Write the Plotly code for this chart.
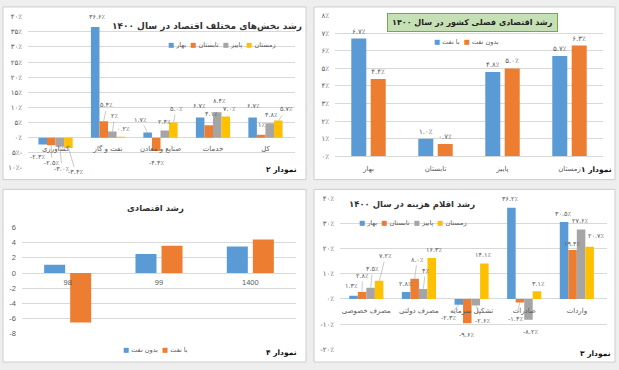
import math
import plotly.graph_objects as go

W, H = 619, 370

# ---------------- data ----------------
season_names = ["بهار", "تابستان", "پاییز", "زمستان"]
season_colors = ["#5b9bd5", "#ed7d31", "#a5a5a5", "#ffc000"]

# Chart 1: quarterly growth 1400
p1_categories = ["بهار", "تابستان", "پاییز", "زمستان"]
p1_with_oil = [6.7, 1.0, 4.8, 5.7]
p1_without_oil = [4.4, 0.7, 5.0, 6.3]
p1_series_names = ["با نفت", "بدون نفت"]
p1_colors = ["#5b9bd5", "#ed7d31"]
p1_yticks = [0, 1, 2, 3, 4, 5, 6, 7, 8]

# Chart 2: sectors
p2_categories = ["کشاورزی", "نفت و گاز", "صنایع و معادن", "خدمات", "کل"]
p2_spring = [-2.3, 36.6, 1.7, 6.7, 6.7]
p2_summer = [-2.5, 5.4, -4.4, 4.1, 1]
p2_autumn = [-3.0, 2, 2.4, 8.4, 4.8]
p2_winter = [-3.4, 0.2, 5.0, 7.0, 5.7]
p2_yticks = [-10, -5, 0, 5, 10, 15, 20, 25, 30, 35, 40]

# Chart 3: expenditure items
p3_categories = ["مصرف خصوصی", "مصرف دولتی", "تشکیل سرمایه", "صادرات", "واردات"]
p3_spring = [1.3, 2.8, -2.3, 36.2, 30.5]
p3_summer = [2.8, 8.0, -9.6, -1.4, 19.4]
p3_autumn = [4.5, 4, -2.6, -8.2, 27.6]
p3_winter = [7.2, 16.3, 14.1, 3.1, 20.7]
p3_yticks = [-20, -10, 0, 10, 20, 30, 40]

# Chart 4: annual growth
p4_categories = ["98", "99", "1400"]
p4_without_oil = [1.1, 2.5, 3.5]
p4_with_oil = [-6.5, 3.6, 4.4]
p4_series_names = ["بدون نفت", "با نفت"]
p4_colors = ["#5b9bd5", "#ed7d31"]
p4_yticks = [-8, -6, -4, -2, 0, 2, 4, 6]

# ---------------- label placement (pixel offsets from bar end, per series) ----------------
p2_label_offsets = [
    [(-5, 12), (3, -9.5), (-6.5, -12.7), (0, -11), (0.8, -11)],
    [(0.6, 18), (3.3, -16), (0, 12.4), (2.5, -11.6), (0.5, -9.6)],
    [(2, 22), (2.5, -16), (-0.5, -8.6), (2, -11), (1.3, -8)],
    [(7, 24.5), (2, -8), (2.5, -13.5), (3, -7.3), (8, -11)],
]
p3_label_offsets = [
    [(-1.7, -10), (0, -8.4), (-10.5, 12.8), (-0.6, -8.8), (-0.6, -8.5)],
    [(0.6, -16), (2.5, -19), (-1, 12), (-4.3, 16), (0, -6)],
    [(2, -18.7), (2.3, -17.7), (6.3, 15.3), (2, 12.5), (-0.6, -8.3)],
    [(6.3, -24.7), (2.4, -7.5), (-1.5, -8), (1, -7), (6.7, -11)],
]

# ---------------- helpers ----------------
FA = str.maketrans("0123456789", "۰۱۲۳۴۵۶۷۸۹")
FONT = "DejaVu Sans"
GRAY_TXT = "#595959"
GRID = "#d9d9d9"
LABEL_SIZE = 6.5


def fa(s):
    return str(s).translate(FA)


def pct(v):
    s = f"{abs(v):.1f}" if isinstance(v, float) else f"{abs(v)}"
    return ("-" if v < 0 else "") + fa(s) + "٪"


def px_x(p):
    return p / W


def px_y(p):
    return 1 - p / H


fig = go.Figure()

# panel backgrounds
panels = [(3, 3, 306, 180), (314, 3, 615, 180), (3, 190, 306, 367), (314, 190, 615, 367)]
for (x0, y0, x1, y1) in panels:
    fig.add_shape(type="rect", xref="paper", yref="paper",
                  x0=px_x(x0), x1=px_x(x1), y0=px_y(y1), y1=px_y(y0),
                  fillcolor="white", line=dict(color="#cdcdcd", width=1), layer="below")

# plot-area geometry (pixels)
p1_x, p1_dom_y, p1_rng = (335, 603), (12, 156), [0, 8]
p2_x, p2_dom_y, p2_rng = (28, 295), (13, 168), [-10, 40]
p3_x, p3_dom_y, p3_rng = (340, 607), (199, 354), [-20, 40]
p4_x, p4_dom_y, p4_rng = (22, 296), (229, 338), [-8, 6]


def add_bars(cats, series, names, colors, xa, ya, width, spacing, text=False):
    n = len(series)
    for i, (vals, name, col) in enumerate(zip(series, names, colors)):
        center = (i - (n - 1) / 2) * spacing
        kw = {}
        if text:
            kw = dict(text=[pct(v) for v in vals], textposition="outside",
                      textfont=dict(family=FONT, size=LABEL_SIZE + 0.5, color=GRAY_TXT),
                      constraintext="none", cliponaxis=False)
        fig.add_trace(go.Bar(
            x=cats, y=vals, name=name, xaxis=xa, yaxis=ya,
            width=width, offset=center - width / 2,
            marker=dict(color=col, line=dict(width=0)), showlegend=False, **kw))


def add_labels(cats, series, xa, ya, spacing, xpx, offsets):
    n = len(series)
    catw = (xpx[1] - xpx[0]) / len(cats)
    for i, vals in enumerate(series):
        shift = (i - (n - 1) / 2) * spacing * catw
        for j, v in enumerate(vals):
            dx, dy = offsets[i][j]
            common = dict(x=cats[j], y=v, xref=xa, yref=ya, text=pct(v),
                          font=dict(family=FONT, size=LABEL_SIZE, color=GRAY_TXT))
            if math.hypot(dx, dy) > 13:
                fig.add_annotation(**common, showarrow=True, arrowhead=0, arrowwidth=0.6,
                                   arrowcolor="#a6a6a6", ax=dx, ay=dy, xshift=shift,
                                   standoff=0, startstandoff=0)
            else:
                fig.add_annotation(**common, showarrow=False, xshift=shift + dx, yshift=-dy,
                                   xanchor="center", yanchor="middle")


p2_series = [p2_spring, p2_summer, p2_autumn, p2_winter]
p3_series = [p3_spring, p3_summer, p3_autumn, p3_winter]

add_bars(p1_categories, [p1_with_oil, p1_without_oil], p1_series_names, p1_colors,
         "x", "y", 0.224, 0.29, text=True)
add_bars(p2_categories, p2_series, season_names, season_colors, "x2", "y2", 0.163, 0.163)
add_bars(p3_categories, p3_series, season_names, season_colors, "x3", "y3", 0.162, 0.162)
add_bars(p4_categories, [p4_without_oil, p4_with_oil], p4_series_names, p4_colors,
         "x4", "y4", 0.23, 0.285)

add_labels(p2_categories, p2_series, "x2", "y2", 0.163, p2_x, p2_label_offsets)
add_labels(p3_categories, p3_series, "x3", "y3", 0.162, p3_x, p3_label_offsets)


def yaxis_cfg(dom_px, rng, tickvals, ticktext, latin=False):
    return dict(domain=[px_y(dom_px[1]), px_y(dom_px[0])], range=rng,
                tickvals=tickvals, ticktext=ticktext, showgrid=True, gridcolor=GRID,
                gridwidth=1, zeroline=True, zerolinecolor=GRID, zerolinewidth=1,
                showline=False, ticks="", fixedrange=True,
                tickfont=dict(family="Liberation Sans" if latin else FONT, size=7 if not latin else 7.5,
                              color=GRAY_TXT),
                ticklabelstandoff=5)


def xaxis_cfg(xpx, font_family=FONT, size=7):
    return dict(domain=[px_x(xpx[0]), px_x(xpx[1])], type="category", showgrid=False,
                showline=False, ticks="", fixedrange=True,
                tickfont=dict(family=font_family, size=size, color=GRAY_TXT))


def zero_pos(dom_px, rng):
    d0, d1 = px_y(dom_px[1]), px_y(dom_px[0])
    return d0 + (0 - rng[0]) / (rng[1] - rng[0]) * (d1 - d0)


fig.update_layout(
    width=W, height=H, margin=dict(l=0, r=0, t=0, b=0),
    paper_bgcolor="#eeeeee", plot_bgcolor="rgba(0,0,0,0)",
    barmode="overlay", showlegend=False,
    font=dict(family=FONT, color=GRAY_TXT),
    xaxis=dict(anchor="y", ticklabelstandoff=7, **xaxis_cfg(p1_x)),
    yaxis=dict(anchor="x", **yaxis_cfg(p1_dom_y, p1_rng, p1_yticks, [fa(v) + "٪" for v in p1_yticks])),
    xaxis2=dict(anchor="free", position=zero_pos(p2_dom_y, p2_rng), ticklabelstandoff=5,
                **xaxis_cfg(p2_x)),
    yaxis2=dict(anchor="x2", **yaxis_cfg(p2_dom_y, p2_rng, p2_yticks,
                                         [fa(abs(v)) + "٪" + ("-" if v < 0 else "") for v in p2_yticks])),
    xaxis3=dict(anchor="free", position=zero_pos(p3_dom_y, p3_rng), ticklabelstandoff=6,
                **xaxis_cfg(p3_x)),
    yaxis3=dict(anchor="x3", **yaxis_cfg(p3_dom_y, p3_rng, p3_yticks,
                                         [("-" if v < 0 else "") + fa(abs(v)) + "٪" for v in p3_yticks])),
    xaxis4=dict(anchor="free", position=zero_pos(p4_dom_y, p4_rng), ticklabelstandoff=3,
                **xaxis_cfg(p4_x, "Liberation Sans", 7.5)),
    yaxis4=dict(anchor="x4", **yaxis_cfg(p4_dom_y, p4_rng, p4_yticks, [str(v) for v in p4_yticks], latin=True)),
)


def legend_annotation(names, colors, cx, cy):
    parts = [f"<span style='color:{c}'>■</span>\u00a0{n}\u200e" for n, c in zip(names, colors)]
    fig.add_annotation(text="\u00a0\u00a0".join(parts), xref="paper", yref="paper",
                       x=px_x(cx), y=px_y(cy), showarrow=False, xanchor="center", yanchor="middle",
                       font=dict(family=FONT, size=6.5, color=GRAY_TXT))


legend_annotation(p1_series_names, p1_colors, 466, 39)
legend_annotation(season_names, season_colors, 222, 42)
legend_annotation(season_names, season_colors, 413, 224)
legend_annotation(p4_series_names, p4_colors, 155, 355)

# titles
fig.add_annotation(text="<b>رشد اقتصادی فصلی کشور در سال ۱۴۰۰</b>", xref="paper", yref="paper",
                   x=px_x(472), y=px_y(19), showarrow=False, xanchor="center", yanchor="middle",
                   font=dict(family=FONT, size=8, color="#222222"),
                   bgcolor="#c5e0b4", bordercolor="#70ad47", borderwidth=1, borderpad=4)
fig.add_annotation(text="<b>رشد بخش‌های مختلف اقتصاد در سال ۱۴۰۰</b>", xref="paper", yref="paper",
                   x=px_x(207), y=px_y(23), showarrow=False, xanchor="center", yanchor="middle",
                   font=dict(family=FONT, size=9, color="#333333"))
fig.add_annotation(text="<b>رشد اقلام هزینه در سال ۱۴۰۰</b>", xref="paper", yref="paper",
                   x=px_x(412), y=px_y(206), showarrow=False, xanchor="center", yanchor="middle",
                   font=dict(family=FONT, size=8.5, color="#333333"))
fig.add_annotation(text="<b>رشد اقتصادی</b>", xref="paper", yref="paper",
                   x=px_x(155), y=px_y(210), showarrow=False, xanchor="center", yanchor="middle",
                   font=dict(family=FONT, size=8.5, color="#333333"))

# chart numbers
for label, (x1, y) in [("نمودار ۱", (614, 170)), ("نمودار ۲", (299, 170)),
                       ("نمودار ۳", (613, 358)), ("نمودار ۴", (299, 357))]:
    fig.add_annotation(text=f"<b>{label}</b>", xref="paper", yref="paper",
                       x=px_x(x1), y=px_y(y), showarrow=False, xanchor="right", yanchor="middle",
                       font=dict(family=FONT, size=7.5, color="#111111"))

fig.write_html("out.html", config={"displayModeBar": False},
               post_script="document.body.style.margin='0px';")
